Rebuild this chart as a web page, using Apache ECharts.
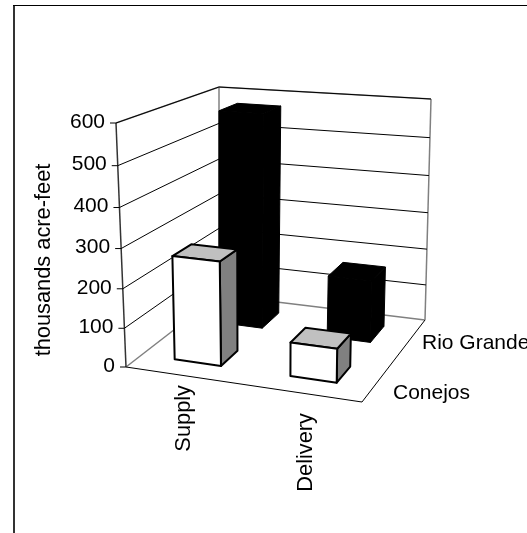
<!DOCTYPE html>
<html>
<head>
<meta charset="utf-8">
<style>
html, body { margin: 0; padding: 0; background: #fff; }
#chart { width: 527px; height: 533px; }
</style>
<script src="https://cdn.jsdelivr.net/npm/echarts@6/dist/echarts.min.js"></script>
</head>
<body>
<div id="chart"></div>
<script>
var categories = ["Supply", "Delivery"];
var depthNames = ["Conejos", "Rio Grande"];
var conejos = [265, 85];
var rioGrande = [570, 165];
var yTicks = [0, 100, 200, 300, 400, 500, 600];
var yName = "thousands acre-feet";

var FONT = "Liberation Sans, Arial, sans-serif";
var FS = 21;
var FS_ROTATED = 21.8;
var BAR_LIFT = 2;

// corners of the 3d box as they land on screen
var floor = { o: [126, 367], a: [362, 402], b: [425, 320], c: [219, 295] };
var roof = { o: [116, 123], a: [366, 143], b: [431, 99], c: [219, 87] };

function lerp(p, q, t) {
  return [p[0] + (q[0] - p[0]) * t, p[1] + (q[1] - p[1]) * t];
}

// u along categories, d into the page, h up
function project(u, d, h) {
  var fh = h / (1 + 0.06 * (1 - h));
  var dTop = d + 0.1 * d * (1 - d);
  var lo = lerp(lerp(floor.o, floor.a, u), lerp(floor.c, floor.b, u), d);
  var hi = lerp(lerp(roof.o, roof.a, u), lerp(roof.c, roof.b, u), dTop);
  return lerp(lo, hi, fh);
}

function barPoint(u, d, h) {
  var p = project(u, d, h);
  return [p[0], p[1] - BAR_LIFT];
}

function line(p, q, color, width) {
  return {
    type: "line",
    shape: { x1: p[0], y1: p[1], x2: q[0], y2: q[1] },
    style: { stroke: color, lineWidth: width }
  };
}

function poly(points, fill, stroke, width) {
  return {
    type: "polygon",
    shape: { points: points },
    style: { fill: fill, stroke: stroke, lineWidth: width, lineJoin: "round" }
  };
}

function text(str, x, y, align, rotation) {
  return {
    type: "text",
    x: x,
    y: y,
    rotation: rotation || 0,
    style: {
      text: str,
      font: (rotation ? FS_ROTATED : FS) + "px " + FONT,
      fill: "#000",
      align: align,
      verticalAlign: "middle"
    }
  };
}

function heightOf(params, api, value) {
  var cs = params.coordSys;
  return (cs.y + cs.height - api.coord([0, value])[1]) / cs.height;
}

function renderWalls(params, api) {
  var h = heightOf(params, api, api.value(0));
  var kids = [];
  var front = project(0, 0, h);
  if (api.value(0) > 0) {
    kids.push(line(project(0, 1, h), front, "#000", 1));
    kids.push(line(project(1, 1, h), project(0, 1, h), "#000", 1));
  }
  kids.push(line(front, [front[0] - 6, front[1]], "#000", 1));
  kids.push(text(String(api.value(0)), front[0] - 11, front[1] - 1, "right"));
  return { type: "group", children: kids };
}

function renderFrame(params, api) {
  var gray = "#808080";
  return {
    type: "group",
    children: [
      line(project(0, 1, 1), project(1, 1, 1), gray, 1.5),
      line(project(0, 0, 1), project(0, 1, 1), gray, 1.5),
      line(project(0, 1, 0), project(0, 1, 1), gray, 1.5),
      line(project(1, 1, 0), project(1, 1, 1), gray, 1.5),
      line(project(0, 0, 0), project(0, 1, 0), gray, 1.5),
      line(project(0, 1, 0), project(1, 1, 0), gray, 1.5),
      line(project(0, 0, 0), project(1, 0, 0), "#000", 1),
      line(project(1, 0, 0), project(1, 1, 0), "#000", 1),
      line(project(0, 0, 0), project(0, 0, 1), "#333", 1.5)
    ]
  };
}

function renderBars(depthIndex, front, top, side, stroke, width) {
  return function (params, api) {
    var cs = params.coordSys;
    var band = api.size([1, 0])[0];
    var cx = (api.coord([api.value(0), 0])[0] - cs.x) / cs.width;
    var half = 0.2 * band / cs.width;
    var d0 = (depthIndex + 0.3) / 2;
    var d1 = (depthIndex + 0.7) / 2;
    var h = heightOf(params, api, api.value(1));
    var u0 = cx - half;
    var u1 = cx + half;
    return {
      type: "group",
      children: [
        poly([barPoint(u1, d0, 0), barPoint(u1, d1, 0), barPoint(u1, d1, h), barPoint(u1, d0, h)], side, stroke, width),
        poly([barPoint(u0, d0, h), barPoint(u1, d0, h), barPoint(u1, d1, h), barPoint(u0, d1, h)], top, stroke, width),
        poly([barPoint(u0, d0, 0), barPoint(u1, d0, 0), barPoint(u1, d0, h), barPoint(u0, d0, h)], front, stroke, width)
      ]
    };
  };
}

function renderLabels() {
  var kids = [
    text(categories[0], 184, 385, "right", Math.PI / 2),
    text(categories[1], 306, 413, "right", Math.PI / 2),
    text(depthNames[0], 393, 393, "left"),
    text(depthNames[1], 422, 343, "left"),
    text(yName, 44, 260, "center", Math.PI / 2)
  ];
  return { type: "group", children: kids };
}

var chart = echarts.init(document.getElementById("chart"), null, { renderer: "canvas" });
chart.setOption({
  animation: false,
  backgroundColor: "#fff",
  graphic: [
    { type: "line", shape: { x1: 14, y1: 533, x2: 14, y2: 5 }, style: { stroke: "#333", lineWidth: 2 } },
    { type: "line", shape: { x1: 13, y1: 5.5, x2: 527, y2: 5.5 }, style: { stroke: "#000", lineWidth: 1 } }
  ],
  grid: { left: 0, right: 0, top: 0, bottom: 0 },
  xAxis: { type: "category", data: categories, show: false },
  yAxis: { type: "value", min: 0, max: 600, interval: 100, show: false },
  series: [
    { type: "custom", data: [[0]], renderItem: renderFrame, silent: true },
    { type: "custom", data: yTicks.map(function (v) { return [v]; }), renderItem: renderWalls, silent: true },
    {
      type: "custom",
      name: depthNames[1],
      data: rioGrande.map(function (v, i) { return [i, v]; }),
      renderItem: renderBars(1, "#000", "#000", "#000", "#000", 1)
    },
    {
      type: "custom",
      name: depthNames[0],
      data: conejos.map(function (v, i) { return [i, v]; }),
      renderItem: renderBars(0, "#fff", "#c0c0c0", "#808080", "#000", 2)
    },
    { type: "custom", data: [[0]], renderItem: renderLabels, silent: true }
  ]
});
</script>
</body>
</html>
